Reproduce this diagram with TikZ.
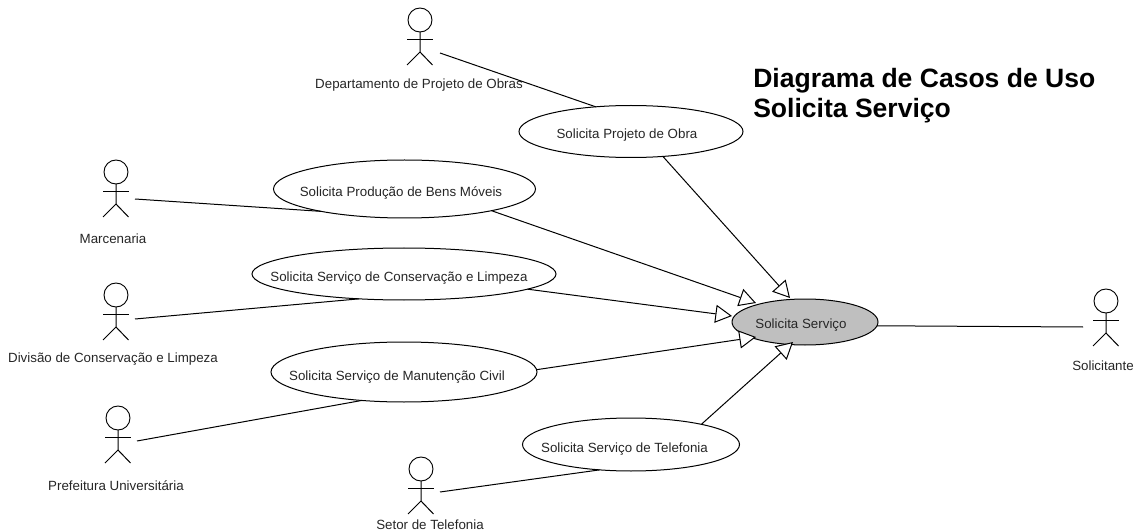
\documentclass[tikz,border=0pt]{standalone}
\usepackage{fontspec}
\setmainfont{Liberation Sans}
\usetikzlibrary{shapes.geometric,arrows.meta}
\tikzset{
  x=0.75pt,y=-0.75pt,
  every node/.style={font=\fontsize{10pt}{12pt}\selectfont,text=black!85},
  lbl/.style={inner sep=0pt,anchor=center,yshift=-1pt},
  uc/.style 2 args={draw=black,line width=0.75pt,fill=white,ellipse,inner sep=0pt,outer sep=0pt,minimum width=#1*1.5pt,minimum height=#2*1.5pt},
  ln/.style={draw=black,line width=0.75pt},
  gen/.style={draw=black,line width=0.75pt,-{Triangle[open,fill=white,length=12.5pt,width=13.5pt]}},
  head/.style={draw=black,line width=0.7pt,circle,inner sep=0pt,outer sep=0pt,minimum size=18pt,fill=white},
}
\newcommand{\stick}[3]{%
  \node[head] (#1) at (#2,#3) {};
  \draw[ln] (#1.south) -- ++(0,20) coordinate (#1hip) -- +(-13,13) coordinate (#1l);
  \draw[ln] (#1hip) -- +(12.5,13);
  \draw[ln] (#2-13,#3+19.5) -- (#2+12.5,#3+19.5);
}
\begin{document}
\begin{tikzpicture}
\useasboundingbox (0,0) rectangle (1136,531);
\stick{aDep}{420}{20}
\stick{aMar}{116}{172}
\stick{aDiv}{116}{295}
\stick{aPre}{118}{418}
\stick{aSet}{421}{469}
\stick{aSol}{1106}{301}
\node[lbl] (tDep) at (419,84) {Departamento de Projeto de Obras};
\node[lbl] (tMar) at (113,237) {Marcenaria};
\node[lbl] (tDiv) at (113,358) {Divisão de Conservação e Limpeza};
\node[lbl] (tPre) at (116,484) {Prefeitura Universitária};
\node[lbl] (tSet) at (430,523.5) {Setor de Telefonia};
\node[lbl] (tSol) at (1103,364) {Solicitante};
\coordinate (cDep) at (440,53);
\coordinate (cMar) at (135,199);
\coordinate (cDiv) at (135,319);
\coordinate (cPre) at (137,441);
\coordinate (cSet) at (440,492);
\coordinate (cSol) at (1083,327);
\node[uc={112}{26}] (uPro) at (631,131.5) {};
\node[uc={131}{29}] (uBen) at (404.5,189) {};
\node[uc={152}{26}] (uCon) at (404,274) {};
\node[uc={133}{30}] (uMan) at (404,372) {};
\node[uc={108.5}{26.5}] (uTel) at (631,444.5) {};
\node[uc={73}{23},fill=black!25] (uSer) at (805,322) {};
\node[lbl] (lPro) at (627,134) {Solicita Projeto de Obra};
\node[lbl] (lBen) at (401,192) {Solicita Produção de Bens Móveis};
\node[lbl] (lCon) at (399,277) {Solicita Serviço de Conservação e Limpeza};
\node[lbl] (lMan) at (397,376) {Solicita Serviço de Manutenção Civil};
\node[lbl] (lTel) at (624.5,448) {Solicita Serviço de Telefonia};
\node[lbl] (lSer) at (801,324) {Solicita Serviço};
\draw[ln] (cDep) -- (uPro.145.4);
\draw[ln] (cMar) -- (uBen.195.1);
\draw[ln] (cDiv) -- (uCon.209.7);
\draw[ln] (cPre) -- (uMan.214.3);
\draw[ln] (cSet) -- (uTel.219);
\draw[ln] (uSer.-3) -- (cSol);
\coordinate (hPro) at (790,298);
\coordinate (hBen) at (756,303);
\coordinate (hCon) at (732,316);
\coordinate (hMan) at (756,337);
\coordinate (hTel) at (793,342);
\draw[gen] (uPro.-38.5) -- (hPro);
\draw[gen] (uBen.-14.4) -- (hBen);
\draw[gen] (uCon.-7.5) -- (hCon);
\draw[gen] (uMan.1.7) -- (hMan);
\draw[gen] (uTel.16.6) -- (hTel);
\node[anchor=north west,inner sep=0pt,align=left,font=\fontsize{19.9pt}{22.5pt}\selectfont\bfseries,text=black] (title) at (753,68.5) {Diagrama de Casos de Uso\\Solicita Serviço};
\end{tikzpicture}
\end{document}
